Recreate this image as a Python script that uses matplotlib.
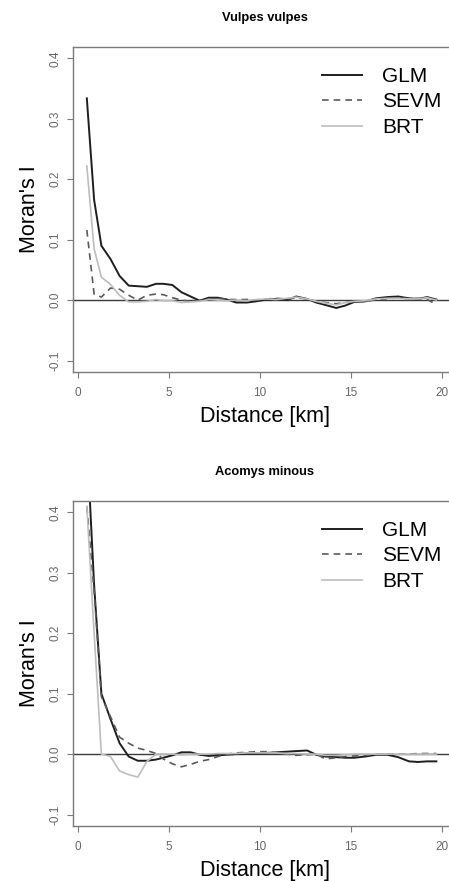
import matplotlib
matplotlib.use("Agg")
import matplotlib.pyplot as plt

plt.rcParams['font.family'] = ['Liberation Sans', 'DejaVu Sans']

# distance classes (km)
distance = [0.5, 0.9, 1.3, 1.8, 2.3, 2.8, 3.3, 3.8, 4.3, 4.7, 5.2, 5.7, 6.2, 6.7,
            7.2, 7.7, 8.2, 8.7, 9.3, 9.8, 10.4, 10.9, 11.5, 12.0, 12.6, 13.1, 13.6,
            14.2, 14.7, 15.2, 15.8, 16.4, 17.0, 17.6, 18.2, 18.7, 19.2, 19.7]

# Vulpes vulpes
vv_glm = [0.334, 0.166, 0.090, 0.068, 0.040, 0.024, 0.023, 0.022, 0.027, 0.027,
          0.025, 0.013, 0.006, -0.001, 0.004, 0.004, 0.001, -0.004, -0.004, -0.002,
          0.001, 0.002, 0.000, 0.006, 0.002, -0.004, -0.008, -0.013, -0.009, -0.003,
          -0.002, 0.003, 0.005, 0.006, 0.003, 0.002, 0.005, 0.001]
vv_sevm = [0.116, 0.010, 0.005, 0.020, 0.018, 0.008, 0.000, 0.008, 0.010, 0.009,
           0.004, 0.000, -0.002, -0.001, 0.002, 0.003, 0.001, 0.001, 0.001, 0.000,
           0.002, 0.003, 0.002, 0.004, 0.002, -0.002, -0.004, -0.006, -0.004, -0.002,
           -0.003, 0.001, 0.002, 0.004, 0.002, 0.003, 0.001, -0.007]
vv_brt = [0.222, 0.085, 0.038, 0.026, 0.008, -0.003, -0.003, -0.002, 0.001, -0.001,
          -0.001, -0.004, -0.003, -0.002, 0.001, 0.000, -0.001, 0.000, -0.001, 0.001,
          0.002, 0.001, 0.003, 0.005, 0.002, -0.002, -0.005, -0.008, -0.004, -0.002,
          -0.001, 0.002, 0.003, 0.003, 0.002, 0.002, 0.004, 0.000]

# Acomys minous
am_glm = [0.52, 0.28, 0.100, 0.058, 0.018, -0.004, -0.011, -0.011, -0.009, -0.006,
          -0.002, 0.003, 0.003, -0.001, -0.003, -0.002, -0.001, 0.000, 0.001, 0.001,
          0.002, 0.003, 0.004, 0.005, 0.006, -0.001, -0.004, -0.005, -0.006, -0.006,
          -0.004, -0.001, -0.001, -0.005, -0.012, -0.013, -0.012, -0.012]
am_sevm = [0.41, 0.27, 0.095, 0.062, 0.028, 0.018, 0.010, 0.006, 0.001, -0.008,
           -0.016, -0.021, -0.017, -0.012, -0.009, -0.004, 0.000, 0.002, 0.003, 0.004,
           0.004, 0.002, 0.000, -0.002, -0.001, 0.000, -0.008, -0.006, -0.004, -0.003,
           -0.002, -0.001, 0.000, 0.000, 0.000, 0.001, 0.001, 0.001]
am_brt = [0.41, 0.20, 0.000, -0.004, -0.028, -0.034, -0.038, -0.012, 0.000, 0.000,
          0.000, -0.001, 0.000, 0.000, 0.000, 0.001, 0.001, 0.001, 0.002, 0.002,
          0.002, 0.002, 0.001, 0.001, 0.000, 0.000, -0.002, -0.002, -0.001, 0.000,
          0.000, 0.000, 0.000, 0.000, 0.000, 0.000, 0.000, 0.000]

titles = ['Vulpes vulpes', 'Acomys minous']
series_labels = ['GLM', 'SEVM', 'BRT']
x_ticks = [0, 5, 10, 15, 20]
y_ticks = [-0.1, 0.0, 0.1, 0.2, 0.3, 0.4]

W, H = 449, 881
fig = plt.figure(figsize=(W / 100, H / 100), dpi=100)

# axes boxes in pixels: (left, top, right, bottom), right edge falls outside the image
boxes = [(73, 47, 456, 372), (73, 501, 456, 826)]
panels = [(vv_glm, vv_sevm, vv_brt), (am_glm, am_sevm, am_brt)]

frame_col = '#7a7a7a'
for (l, t, r, b), title, (glm, sevm, brt) in zip(boxes, titles, panels):
    ax = fig.add_axes([l / W, (H - b) / H, (r - l) / W, (b - t) / H])
    ax.plot(distance, glm, color='#1e1e1e', lw=1.4, label=series_labels[0])
    ax.plot(distance, sevm, color='#5a5a5a', lw=1.2, ls=(0, (4, 3)), label=series_labels[1])
    ax.plot(distance, brt, color='#bdbdbd', lw=1.2, label=series_labels[2])
    ax.axhline(0, color='#3a3a3a', lw=1.0, zorder=0)
    ax.set_xlim(-0.26, 20.78)
    ax.set_ylim(-0.119, 0.419)
    ax.set_xticks(x_ticks)
    ax.set_yticks(y_ticks)
    ax.set_yticklabels(['-0.1', '0.0', '0.1', '0.2', '0.3', '0.4'])
    for s in ax.spines.values():
        s.set_color(frame_col)
        s.set_linewidth(1.0)
    ax.tick_params(colors=frame_col, labelcolor='#666666', labelsize=8.5,
                   length=4, width=0.8)
    ax.tick_params(axis='x', pad=7)
    ax.tick_params(axis='y', pad=4)
    for lab in ax.get_yticklabels():
        lab.set_rotation(90)
        lab.set_va('center')
        lab.set_ha('right')
    ax.set_xlabel('Distance [km]', fontsize=15.5, labelpad=5)
    ax.set_ylabel("Moran's I", fontsize=15.5, labelpad=7)
    ax.set_title(title, fontsize=9.3, fontweight='bold', pad=19)
    ax.legend(loc='upper left', bbox_to_anchor=(0.649, 0.939), frameon=False,
              fontsize=15, handlelength=1.95, handletextpad=0.95,
              labelspacing=0.32, borderpad=0, borderaxespad=0)

fig.savefig('out.png', dpi=100)
